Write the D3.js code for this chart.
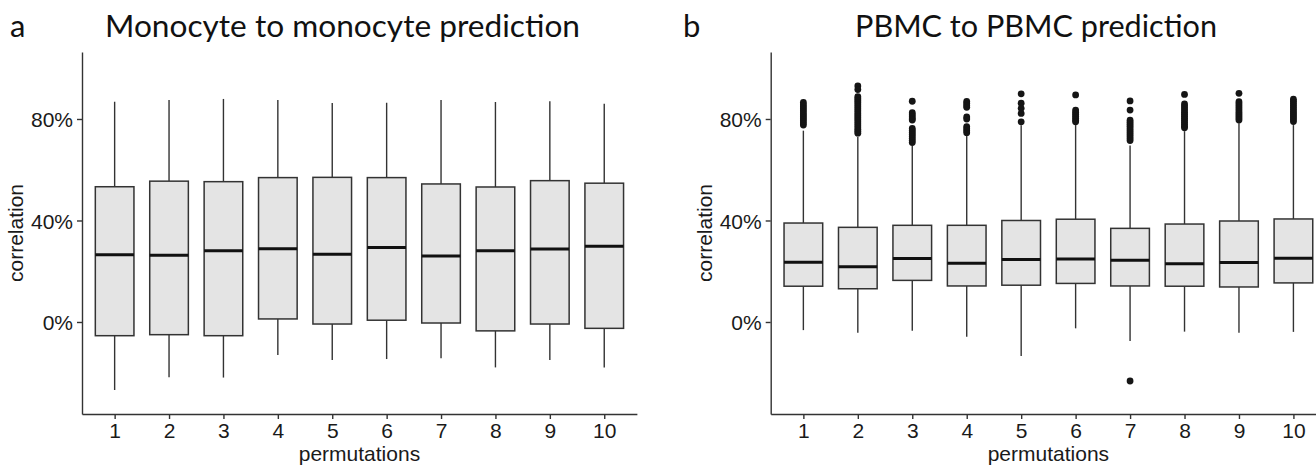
<!DOCTYPE html>
<html>
<head>
<meta charset="utf-8">
<script src="https://cdnjs.cloudflare.com/ajax/libs/d3/7.8.5/d3.min.js"></script>
<style>
  body { margin: 0; background: #fff; }
  svg { display: block; }
</style>
</head>
<body>
<div id="chart"></div>
<script>
// Data (correlation as a fraction)
var permutations = ["1", "2", "3", "4", "5", "6", "7", "8", "9", "10"];
var yTicks = [0, 0.4, 0.8];

// panel a : monocyte -> monocyte
var monoLow    = [-0.268, -0.218, -0.219, -0.130, -0.150, -0.146, -0.143, -0.179, -0.150, -0.179];
var monoQ1     = [-0.054, -0.050, -0.054,  0.012, -0.008,  0.007, -0.004, -0.035, -0.008, -0.025];
var monoMedian = [ 0.265,  0.263,  0.281,  0.289,  0.267,  0.294,  0.260,  0.281,  0.288,  0.298];
var monoQ3     = [ 0.533,  0.555,  0.553,  0.569,  0.570,  0.569,  0.544,  0.532,  0.557,  0.547];
var monoHigh   = [ 0.868,  0.875,  0.879,  0.875,  0.863,  0.864,  0.875,  0.867,  0.870,  0.860];

// panel b : PBMC -> PBMC
var pbmcLow    = [-0.032, -0.042, -0.035, -0.058, -0.134, -0.025, -0.075, -0.038, -0.042, -0.039];
var pbmcQ1     = [ 0.141,  0.131,  0.164,  0.142,  0.145,  0.152,  0.142,  0.141,  0.138,  0.154];
var pbmcMedian = [ 0.235,  0.218,  0.250,  0.231,  0.246,  0.248,  0.243,  0.230,  0.234,  0.251];
var pbmcQ3     = [ 0.390,  0.373,  0.381,  0.381,  0.400,  0.405,  0.369,  0.386,  0.398,  0.406];
var pbmcHigh   = [ 0.754,  0.730,  0.695,  0.737,  0.775,  0.776,  0.696,  0.752,  0.783,  0.776];
var pbmcOutliers = [
  [0.776, 0.784, 0.792, 0.800, 0.808, 0.816, 0.824, 0.832, 0.840, 0.848, 0.856, 0.865],
  [0.930, 0.916, 0.888, 0.880, 0.872, 0.864, 0.856, 0.848, 0.840, 0.832, 0.824, 0.816, 0.808, 0.800, 0.792, 0.784, 0.776, 0.768, 0.760, 0.752, 0.744],
  [0.870, 0.825, 0.817, 0.809, 0.801, 0.796, 0.763, 0.755, 0.747, 0.739, 0.731, 0.723, 0.715, 0.707],
  [0.869, 0.861, 0.853, 0.846, 0.808, 0.800, 0.770, 0.762, 0.754, 0.746],
  [0.899, 0.862, 0.842, 0.822, 0.789],
  [0.895, 0.835, 0.827, 0.819, 0.811, 0.803, 0.795, 0.789],
  [0.871, 0.835, 0.795, 0.787, 0.779, 0.771, 0.763, 0.755, 0.747, 0.739, 0.731, 0.723, 0.715, -0.2325],
  [0.897, 0.859, 0.851, 0.843, 0.835, 0.827, 0.819, 0.811, 0.803, 0.795, 0.787, 0.779, 0.771, 0.765],
  [0.901, 0.868, 0.860, 0.852, 0.844, 0.836, 0.828, 0.820, 0.812, 0.804, 0.796],
  [0.878, 0.870, 0.862, 0.854, 0.846, 0.838, 0.830, 0.822, 0.814, 0.806, 0.798, 0.790]
];

var fullWidth = 1316;
var fullHeight = 466;
var plotTop = 52;
var plotBottom = 414;
var yDomain = [-0.3626, 1.064];
var boxWidth = 0.71;   // in category units
var darkLine = "#333333";
var boxFill = "#e4e4e4";
var axisFont = "'Liberation Sans', Arial, Helvetica, sans-serif";
var titleFont = "Lato, 'Open Sans', sans-serif";

function buildRows(low, q1, median, q3, high, outliers) {
    var rows = [];
    for (var i = 0; i < permutations.length; i++) {
        rows.push({
            key: permutations[i],
            pos: i + 1,
            low: low[i], q1: q1[i], median: median[i], q3: q3[i], high: high[i],
            outliers: outliers ? outliers[i] : []
        });
    }
    return rows;
}

var svg = d3.select("#chart")
    .append("svg")
    .attr("width", fullWidth)
    .attr("height", fullHeight);

function DrawPanel(opts) {
    var xScale = d3.scaleLinear()
        .domain([0.4, 10.6])
        .range([opts.left, opts.left + opts.unit * 10.2]);

    var yScale = d3.scaleLinear()
        .domain(yDomain)
        .range([plotBottom, plotTop]);

    var g = svg.append("g");

    // panel letter + title
    g.append("text")
        .attr("x", opts.letterX)
        .attr("y", 37)
        .style("font-family", titleFont)
        .style("font-size", "31px")
        .attr("fill", "#111")
        .text(opts.letter);

    g.append("text")
        .attr("x", opts.titleX)
        .attr("y", 37)
        .attr("textLength", opts.titleWidth)
        .attr("lengthAdjust", "spacingAndGlyphs")
        .style("font-family", titleFont)
        .style("font-size", "31px")
        .attr("fill", "#111")
        .text(opts.title);

    // axes
    var xAxis = d3.axisBottom(xScale)
        .tickValues(d3.range(1, permutations.length + 1))
        .tickFormat(function(d) { return permutations[d - 1]; })
        .tickSize(5)
        .tickPadding(4)
        .tickSizeOuter(0);

    var yAxis = d3.axisLeft(yScale)
        .tickValues(yTicks)
        .tickFormat(d3.format(".0%"))
        .tickSize(5)
        .tickPadding(4)
        .tickSizeOuter(0);

    var gx = g.append("g")
        .attr("transform", "translate(0," + plotBottom + ")")
        .call(xAxis);

    var gy = g.append("g")
        .attr("transform", "translate(" + opts.left + ",0)")
        .call(yAxis);

    [gx, gy].forEach(function(ax) {
        ax.attr("font-family", null);
        ax.select(".domain").attr("stroke", darkLine).attr("stroke-width", 1.4);
        ax.selectAll(".tick line").attr("stroke", darkLine).attr("stroke-width", 1.4);
        ax.selectAll(".tick text")
            .attr("fill", "#1a1a1a")
            .style("font-family", axisFont)
            .style("font-size", "21px");
    });
    gx.selectAll(".tick text").attr("dy", "0.71em");
    gy.selectAll(".tick text").attr("dy", "0.36em");

    // axis titles
    g.append("text")
        .attr("x", (opts.left + opts.left + opts.unit * 10.2) / 2)
        .attr("y", 461)
        .attr("text-anchor", "middle")
        .style("font-family", axisFont)
        .style("font-size", "21px")
        .attr("fill", "#1a1a1a")
        .text("permutations");

    g.append("text")
        .attr("transform", "translate(" + (opts.left - 59) + "," + ((plotTop + plotBottom) / 2) + ") rotate(-90)")
        .attr("text-anchor", "middle")
        .style("font-family", axisFont)
        .style("font-size", "21px")
        .attr("fill", "#1a1a1a")
        .text("correlation");

    var half = opts.unit * boxWidth / 2;

    var boxes = g.selectAll(".box")
        .data(opts.rows)
        .enter()
        .append("g")
            .classed("box", true);

    // whiskers
    boxes.append("line")
        .attr("x1", function(d) { return xScale(d.pos); })
        .attr("x2", function(d) { return xScale(d.pos); })
        .attr("y1", function(d) { return yScale(d.high); })
        .attr("y2", function(d) { return yScale(d.q3); })
        .attr("stroke", darkLine)
        .attr("stroke-width", 1.4);

    boxes.append("line")
        .attr("x1", function(d) { return xScale(d.pos); })
        .attr("x2", function(d) { return xScale(d.pos); })
        .attr("y1", function(d) { return yScale(d.q1); })
        .attr("y2", function(d) { return yScale(d.low); })
        .attr("stroke", darkLine)
        .attr("stroke-width", 1.4);

    // boxes
    boxes.append("rect")
        .attr("x", function(d) { return xScale(d.pos) - half; })
        .attr("width", half * 2)
        .attr("y", function(d) { return yScale(d.q3); })
        .attr("height", function(d) { return yScale(d.q1) - yScale(d.q3); })
        .attr("fill", boxFill)
        .attr("stroke", darkLine)
        .attr("stroke-width", 1.5);

    // medians
    boxes.append("line")
        .attr("x1", function(d) { return xScale(d.pos) - half; })
        .attr("x2", function(d) { return xScale(d.pos) + half; })
        .attr("y1", function(d) { return yScale(d.median); })
        .attr("y2", function(d) { return yScale(d.median); })
        .attr("stroke", "#111")
        .attr("stroke-width", 3);

    // outliers
    boxes.selectAll("circle")
        .data(function(d) { return d.outliers.map(function(v) { return { pos: d.pos, v: v }; }); })
        .enter()
        .append("circle")
            .attr("cx", function(d) { return xScale(d.pos); })
            .attr("cy", function(d) { return yScale(d.v); })
            .attr("r", 3.4)
            .attr("fill", "#151515");
}

DrawPanel({
    left: 82,
    unit: 54.4,
    letter: "a",
    letterX: 10,
    title: "Monocyte to monocyte prediction",
    titleX: 105,
    titleWidth: 475,
    rows: buildRows(monoLow, monoQ1, monoMedian, monoQ3, monoHigh, null)
});

DrawPanel({
    left: 770.7,
    unit: 54.45,
    letter: "b",
    letterX: 683,
    title: "PBMC to PBMC prediction",
    titleX: 855,
    titleWidth: 362,
    rows: buildRows(pbmcLow, pbmcQ1, pbmcMedian, pbmcQ3, pbmcHigh, pbmcOutliers)
});
</script>
</body>
</html>
